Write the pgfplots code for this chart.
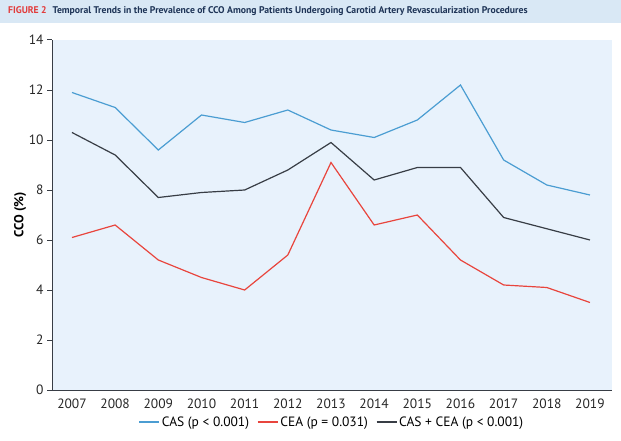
\documentclass[border=0pt]{standalone}
\usepackage{fontspec}
\setmainfont{PT Sans}
\usepackage{pgfplots}
\pgfplotsset{compat=1.18}
\definecolor{casblue}{HTML}{4B9DD2}
\definecolor{cealred}{HTML}{E8453D}
\definecolor{totdark}{HTML}{383D45}
\definecolor{titlebg}{HTML}{D9E8F5}
\definecolor{plotbg}{HTML}{E8F2FC}
\definecolor{figred}{HTML}{E23B3B}
\definecolor{titlenavy}{HTML}{1E3457}
\begin{document}
\begin{tikzpicture}[x=1pt,y=1pt]
\path[use as bounding box] (0,0) rectangle (621,440);
\fill[titlebg] (0,417) rectangle (621,440);
\node[anchor=west,inner sep=0pt,font=\fontsize{9.7}{10}\selectfont\bfseries] at (8,428.5)
  {\textcolor{figred}{FIGURE 2}\hspace{6pt}\textcolor{titlenavy}{Temporal Trends in the Prevalence of CCO Among Patients Undergoing Carotid Artery Revascularization Procedures}};
\begin{axis}[
  at={(52pt,50pt)}, anchor=south west,
  scale only axis, width=560pt, height=350pt,
  xmin=2006.537, xmax=2019.51, ymin=0, ymax=14,
  axis background/.style={fill=plotbg},
  axis x line*=bottom, axis y line*=left,
  axis line style={-, line width=1pt, color=totdark},
  xtick={2007,...,2019},
  xticklabels={2007,2008,2009,2010,2011,2012,2013,2014,2015,2016,2017,2018,2019},
  ytick={0,2,...,14},
  xtick style={draw=none},
  ytick style={line width=1pt, color=totdark},
  tick align=outside, major tick length=5pt,
  /pgf/number format/assume math mode=true,
  tick label style={font=\fontsize{13.5}{14}\selectfont, text=black!85},
  ylabel={\bfseries CCO (\%)},
  ylabel style={font=\fontsize{13}{14}\selectfont, at={(axis description cs:-0.057,0.5)}, anchor=center},
  legend columns=-1,
  legend style={draw=none, fill=none, at={(axis description cs:0.5,-0.0914)}, anchor=center,
    font=\fontsize{13.5}{14}\selectfont, /tikz/every even column/.append style={column sep=6pt}},
  legend image code/.code={\draw[#1] (0pt,0pt) -- (20pt,0pt);},
]
\addplot[casblue, line width=1.2pt] coordinates {
(2007,11.9) (2008,11.3) (2009,9.6) (2010,11.0) (2011,10.7) (2012,11.2) (2013,10.4)
(2014,10.1) (2015,10.8) (2016,12.2) (2017,9.2) (2018,8.2) (2019,7.8)};
\addlegendentry{CAS (p < 0.001)}
\addplot[cealred, line width=1.2pt] coordinates {
(2007,6.1) (2008,6.6) (2009,5.2) (2010,4.5) (2011,4.0) (2012,5.4) (2013,9.1)
(2014,6.6) (2015,7.0) (2016,5.2) (2017,4.2) (2018,4.1) (2019,3.5)};
\addlegendentry{CEA (p = 0.031)}
\addplot[totdark, line width=1.2pt] coordinates {
(2007,10.3) (2008,9.4) (2009,7.7) (2010,7.9) (2011,8.0) (2012,8.8) (2013,9.9)
(2014,8.4) (2015,8.9) (2016,8.9) (2017,6.9) (2018,6.45) (2019,6.0)};
\addlegendentry{CAS + CEA (p < 0.001)}
\end{axis}
\end{tikzpicture}
\end{document}
